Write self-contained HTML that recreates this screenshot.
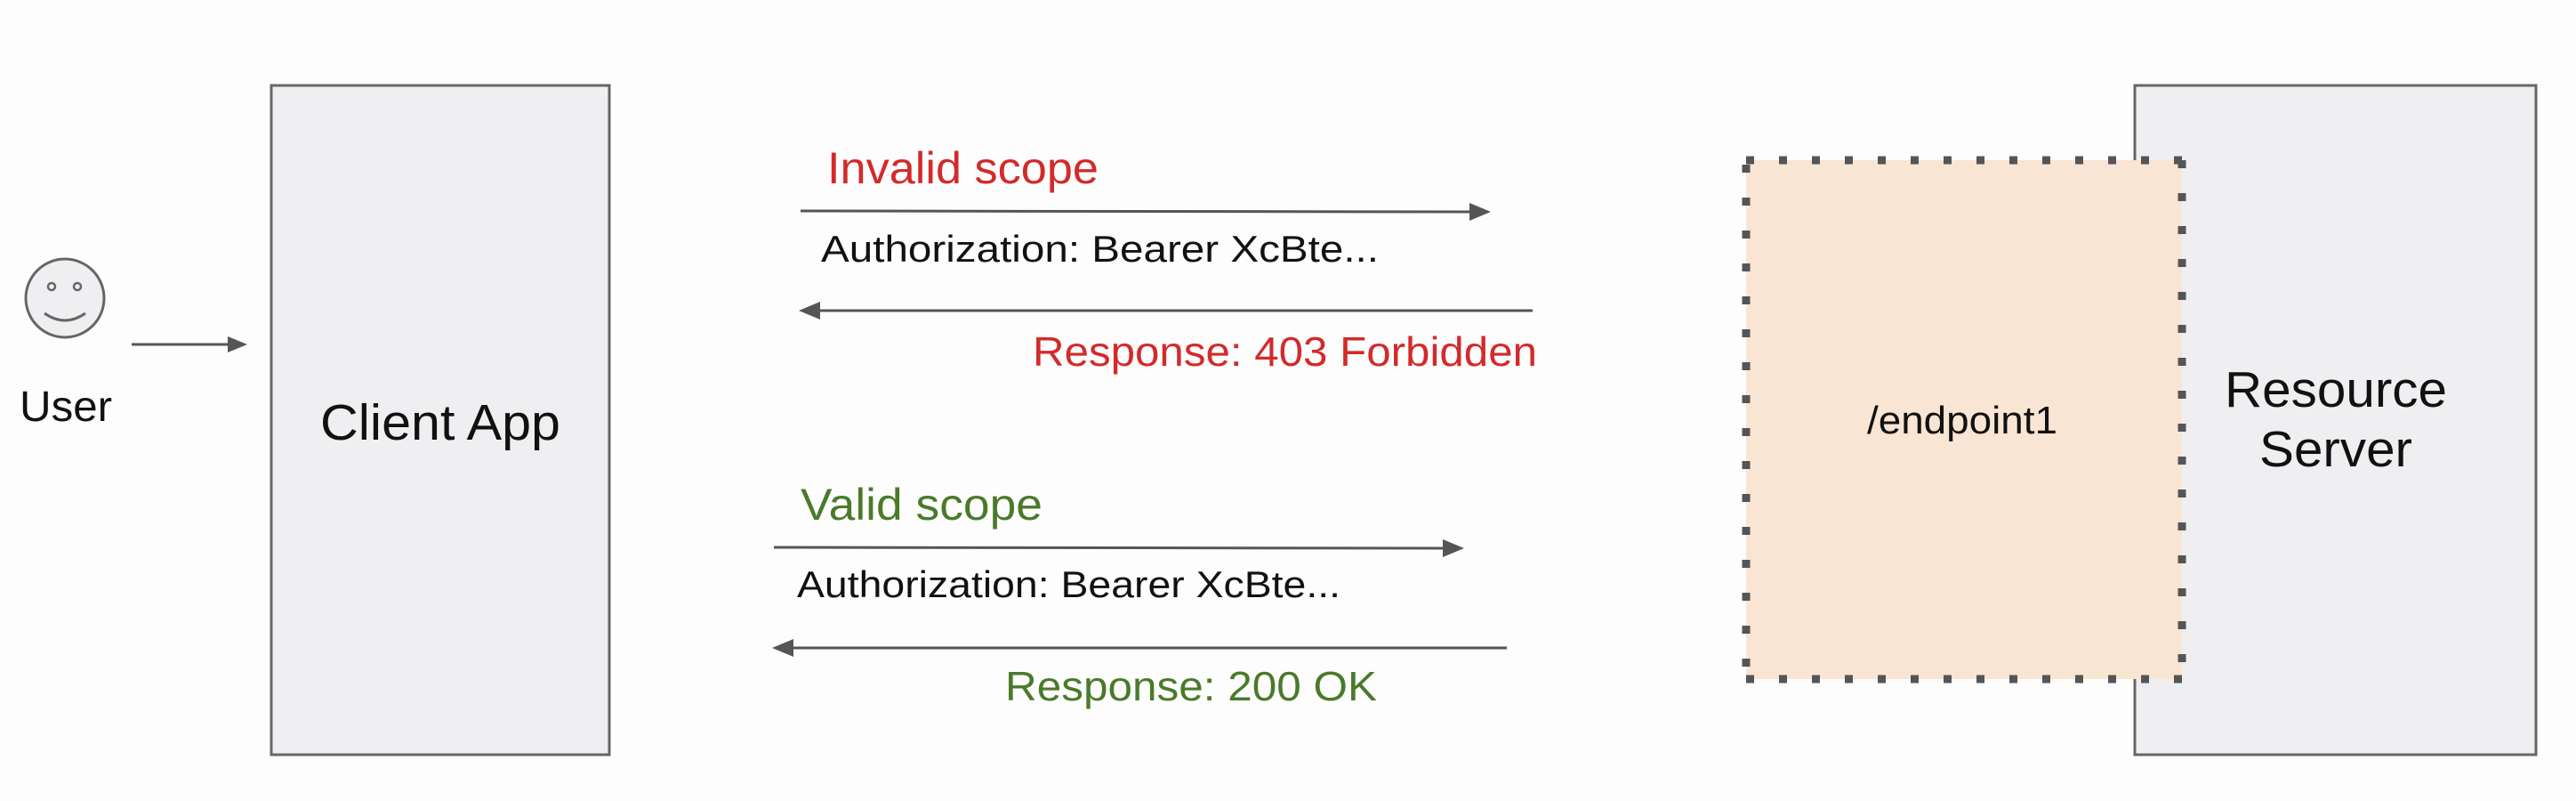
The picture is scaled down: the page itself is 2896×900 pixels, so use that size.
<!DOCTYPE html>
<html><head><meta charset="utf-8"><style>
html,body{margin:0;padding:0;background:#fdfdfd;}
svg{display:block;}
text{font-family:"Liberation Sans",Arial,sans-serif;}
</style></head><body>
<svg width="2896" height="900" viewBox="0 0 2896 900" xmlns="http://www.w3.org/2000/svg">
<rect width="2896" height="900" fill="#fdfdfd"/>
<!-- user -->
<ellipse cx="73" cy="335" rx="44" ry="44" fill="#efeff1" stroke="#666" stroke-width="3"/>
<circle cx="58" cy="322" r="4" fill="none" stroke="#666" stroke-width="2.5"/>
<circle cx="87" cy="322" r="4" fill="none" stroke="#666" stroke-width="2.5"/>
<path d="M50 352 Q73 368 96 352" fill="none" stroke="#666" stroke-width="3"/>
<text x="74" y="473" font-size="48" text-anchor="middle" fill="#111" textLength="104" lengthAdjust="spacingAndGlyphs">User</text>
<line x1="148" y1="387" x2="258" y2="387" stroke="#555" stroke-width="3"/>
<polygon points="278,387 256,378 256,396" fill="#555"/>
<!-- client app -->
<rect x="305" y="96" width="380" height="752" fill="#efeef1" stroke="#666" stroke-width="3"/>
<text x="495" y="494" font-size="57" text-anchor="middle" fill="#111" textLength="270" lengthAdjust="spacingAndGlyphs">Client App</text>
<!-- resource server -->
<rect x="2400" y="96" width="451" height="752" fill="#efeef1" stroke="#666" stroke-width="3"/>
<text x="2626" y="457" font-size="57" text-anchor="middle" fill="#111" textLength="250" lengthAdjust="spacingAndGlyphs">Resource</text>
<text x="2626" y="524" font-size="57" text-anchor="middle" fill="#111" textLength="172" lengthAdjust="spacingAndGlyphs">Server</text>
<!-- endpoint -->
<rect x="1963" y="180" width="490" height="583" fill="#f9e5d3"/>
<g stroke="#555" stroke-width="9" stroke-dasharray="9 28" fill="none">
<line x1="1963" y1="180" x2="2458" y2="180"/>
<line x1="2453" y1="180" x2="2453" y2="768"/>
<line x1="1963" y1="763" x2="2458" y2="763"/>
<line x1="1963" y1="185" x2="1963" y2="763"/>
</g>
<text x="2206" y="487" font-size="44" text-anchor="middle" fill="#111" textLength="214" lengthAdjust="spacingAndGlyphs">/endpoint1</text>
<!-- invalid -->
<text x="930" y="206" font-size="50" fill="#d32a2a" textLength="305" lengthAdjust="spacingAndGlyphs">Invalid scope</text>
<line x1="900" y1="237" x2="1655" y2="238" stroke="#555" stroke-width="3"/>
<polygon points="1676,238 1652,228 1652,248" fill="#555"/>
<text x="923" y="294" font-size="42" fill="#111" textLength="627" lengthAdjust="spacingAndGlyphs">Authorization: Bearer XcBte...</text>
<line x1="1723" y1="349" x2="920" y2="349" stroke="#555" stroke-width="3"/>
<polygon points="898,349 922,339 922,359" fill="#555"/>
<text x="1728" y="411" font-size="46" fill="#d32a2a" text-anchor="end" textLength="567" lengthAdjust="spacingAndGlyphs">Response: 403 Forbidden</text>
<!-- valid -->
<text x="900" y="584" font-size="50" fill="#4a7a2a" textLength="272" lengthAdjust="spacingAndGlyphs">Valid scope</text>
<line x1="870" y1="615" x2="1625" y2="616" stroke="#555" stroke-width="3"/>
<polygon points="1646,616 1622,606 1622,626" fill="#555"/>
<text x="896" y="671" font-size="42" fill="#111" textLength="611" lengthAdjust="spacingAndGlyphs">Authorization: Bearer XcBte...</text>
<line x1="1694" y1="728" x2="890" y2="728" stroke="#555" stroke-width="3"/>
<polygon points="868,728 892,718 892,738" fill="#555"/>
<text x="1548" y="787" font-size="46" fill="#4a7a2a" text-anchor="end" textLength="418" lengthAdjust="spacingAndGlyphs">Response: 200 OK</text>
</svg>
</body></html>
